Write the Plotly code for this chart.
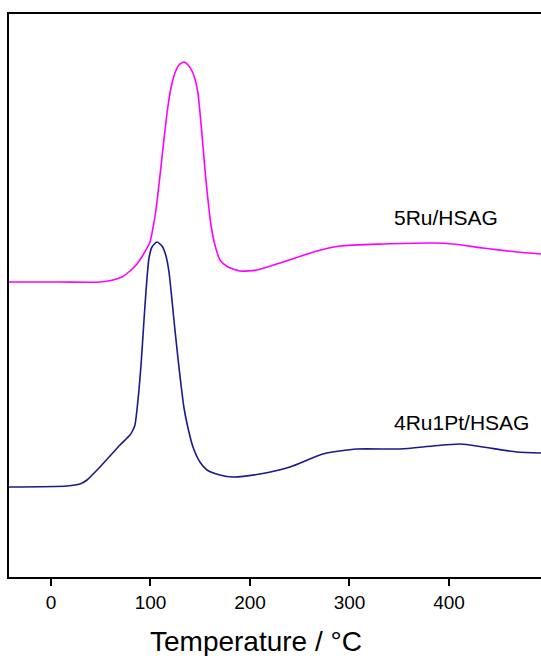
import plotly.graph_objects as go

# Temperature (°C) and TPR signal (a.u., traces offset vertically)
temp_5ru = [-42.2, 9.0, 49.2, 62.3, 71.4, 79.4, 86.4, 92.5, 99.5,
            102.5, 105.5, 108.5, 111.6, 114.6, 117.6, 120.6, 124.6, 128.6, 133.7,
            137.7, 141.7, 144.7, 147.7, 149.7, 151.8, 154.8, 157.8, 160.8, 164.8,
            169.8, 177.9, 189.9, 207.0, 233.2, 267.3, 290.5, 333.7, 383.9, 404.0,
            434.2, 468.3, 492.5]
sig_5ru = [295, 295, 295, 297, 300, 306, 313, 322, 335,
           349, 367, 392, 420, 447, 471, 489, 504, 512, 515,
           512, 506, 498, 484, 465, 442, 407, 377, 352, 332,
           317, 310, 306, 307, 315, 326, 331, 333, 334, 333,
           329, 325, 323]

temp_4ru1pt = [-42.2, 16.1, 29.1, 36.2, 49.2, 59.3, 69.3, 79.4, 82.4, 84.4,
               86.4, 88.4, 90.5, 92.5, 94.5, 96.5, 98.5, 101.5, 106.5, 111.6,
               115.6, 118.6, 121.6, 124.6, 127.6, 130.7, 133.7, 137.7, 142.7, 149.7,
               156.8, 169.8, 182.9, 210.1, 240.2, 273.4, 307.5, 350.8, 383.9, 411.1,
               434.2, 468.3, 492.5]
sig_4ru1pt = [90, 91, 93, 97, 110, 121, 132, 142, 147, 152,
              167, 187, 212, 242, 272, 299, 319, 330, 335, 331,
              321, 305, 277, 247, 219, 192, 169, 149, 130, 115,
              107, 102, 100, 103, 110, 123, 128, 128, 131, 133,
              130, 125, 124]

labels = ["5Ru/HSAG", "4Ru1Pt/HSAG"]
x_ticks = [0, 100, 200, 300, 400]
x_title = "Temperature / °C"

font_family = "Arial, Liberation Sans, sans-serif"

fig = go.Figure()
fig.add_trace(go.Scatter(x=temp_5ru, y=sig_5ru, mode="lines", name=labels[0],
                         line=dict(color="#FF00FF", width=1.6, shape="spline", smoothing=0.6)))
fig.add_trace(go.Scatter(x=temp_4ru1pt, y=sig_4ru1pt, mode="lines", name=labels[1],
                         line=dict(color="#1A1A8C", width=1.6, shape="spline", smoothing=0.6)))

fig.add_annotation(x=343, y=360, text=labels[0], showarrow=False, xanchor="left",
                   yanchor="middle", font=dict(family=font_family, size=21, color="black"))
fig.add_annotation(x=343, y=155, text=labels[1], showarrow=False, xanchor="left",
                   yanchor="middle", font=dict(family=font_family, size=21, color="black"))
fig.add_annotation(x=0.464, y=-0.1137, xref="paper", yref="paper", text=x_title,
                   showarrow=False, xanchor="center", yanchor="middle",
                   font=dict(family=font_family, size=28, color="black"))

fig.update_layout(
    width=541, height=656,
    margin=dict(l=9, r=0, t=14, b=79),
    paper_bgcolor="white", plot_bgcolor="white",
    showlegend=False,
    font=dict(family=font_family, color="black"),
    xaxis=dict(range=[-42.2, 492.5], tickvals=x_ticks, ticks="outside", ticklen=7,
               tickwidth=1.5, tickcolor="black", showline=True, linecolor="black",
               linewidth=2, mirror=True, showgrid=False, zeroline=False,
               tickfont=dict(size=19, family=font_family)),
    yaxis=dict(range=[0, 563], showticklabels=False, ticks="", showline=True,
               linecolor="black", linewidth=2, mirror=False, showgrid=False,
               zeroline=False),
)

fig.write_html("out.html", config={"displayModeBar": False},
               post_script="document.body.style.margin='0';document.body.style.overflow='hidden';")
